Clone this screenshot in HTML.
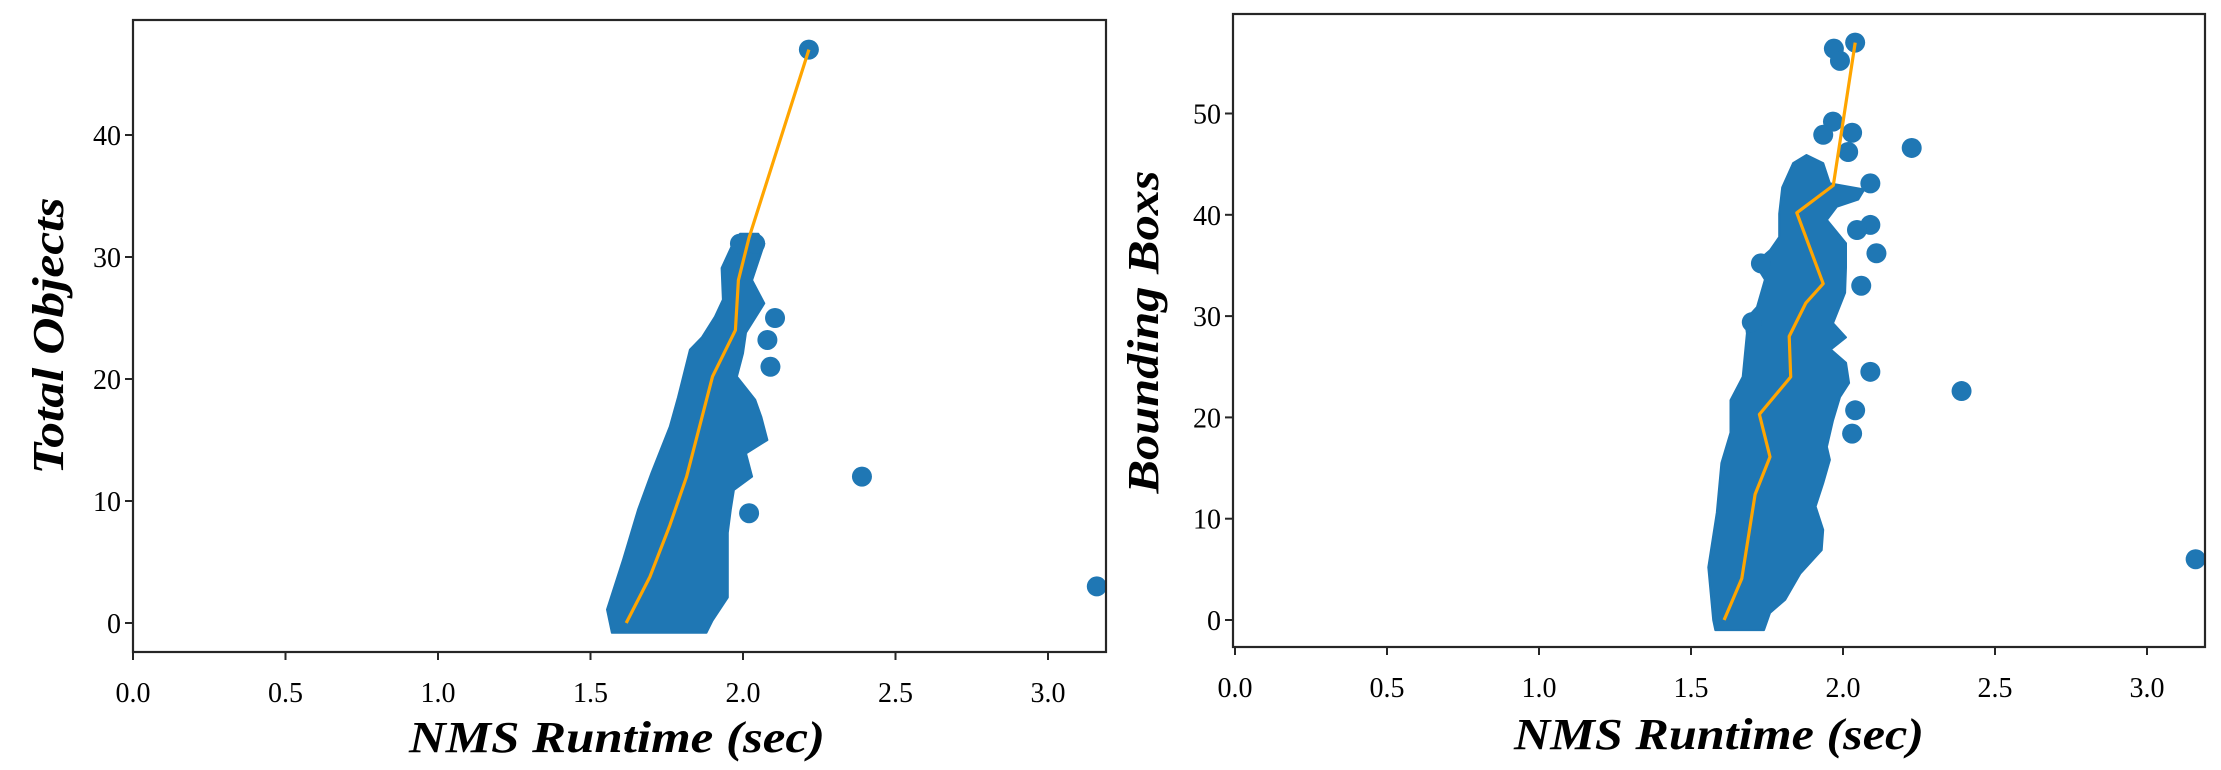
<!DOCTYPE html>
<html><head><meta charset="utf-8"><style>
html,body{margin:0;padding:0;background:#fff;}
svg{display:block;}
text{font-family:"Liberation Serif",serif;fill:#000;}
.tk{font-size:28px;}
.lb{font-size:44px;font-weight:bold;font-style:italic;}
</style></head><body>
<svg id="s" width="2221" height="770" viewBox="0 0 2221 770" xmlns="http://www.w3.org/2000/svg">
<text class="lb" x="617" y="752" text-anchor="middle" textLength="416" lengthAdjust="spacingAndGlyphs">NMS Runtime (sec)</text>
<text class="lb" x="1719" y="749" text-anchor="middle" textLength="410" lengthAdjust="spacingAndGlyphs">NMS Runtime (sec)</text>
<text class="lb" transform="translate(63,336) rotate(-90)" text-anchor="middle" textLength="277" lengthAdjust="spacingAndGlyphs">Total Objects</text>
<text class="lb" transform="translate(1158,332) rotate(-90)" text-anchor="middle" textLength="323" lengthAdjust="spacingAndGlyphs">Bounding Boxs</text>
</svg>
<script>
var S=document.getElementById('s'),NS='http://www.w3.org/2000/svg';
function el(t,a,txt){var e=document.createElementNS(NS,t);for(var k in a)e.setAttribute(k,a[k]);if(txt!==undefined)e.textContent=txt;S.appendChild(e);return e;}
function plot(P){
 var X=function(v){return P.x0+v*P.sx;},Y=function(v){return P.y0-v*P.sy;};
 el('polygon',{points:P.poly.map(function(p){return X(p[0]).toFixed(1)+','+Y(p[1]).toFixed(1);}).join(' '),fill:'#1f77b4','stroke':'#1f77b4','stroke-width':2,'stroke-linejoin':'round'});
 P.dots.forEach(function(d){el('circle',{cx:X(d[0]),cy:Y(d[1]),r:10,fill:'#1f77b4'});});
 el('polyline',{points:P.line.map(function(p){return X(p[0]).toFixed(1)+','+Y(p[1]).toFixed(1);}).join(' '),fill:'none',stroke:'#ffa500','stroke-width':3.2,'stroke-linejoin':'round'});
 el('rect',{x:P.L,y:P.T,width:P.R-P.L,height:P.B-P.T,fill:'none',stroke:'#262626','stroke-width':2.2});
 for(var i=0;i<=6;i++){var v=i*0.5,x=X(v);
  el('line',{x1:x,y1:P.B,x2:x,y2:P.B+8,stroke:'#262626','stroke-width':2});
  el('text',{x:x,y:P.B+50,'class':'tk','text-anchor':'middle'},v.toFixed(1));}
 P.yt.forEach(function(v){var y=Y(v);
  el('line',{x1:P.L-8,y1:y,x2:P.L,y2:y,stroke:'#262626','stroke-width':2});
  el('text',{x:P.L-12,y:y+10,'class':'tk','text-anchor':'end'},String(v));});
}
plot({L:133,R:1106,T:20,B:652,x0:133,sx:305,y0:623,sy:12.2,yt:[0,10,20,30,40],
 poly:[[1.57,-0.8],[1.554,1.1],[1.607,5.2],[1.656,9.3],[1.70,12.3],[1.76,16.1],[1.787,18.5],[1.826,22.4],[1.865,23.4],[1.908,25.1],[1.934,26.5],[1.93,29.1],[1.967,31.1],[1.99,31.9],[2.05,31.9],[2.07,31.1],[2.03,28.1],[2.07,26.2],[2.01,23.8],[2.0,22.1],[1.98,20.2],[2.04,18.3],[2.06,16.9],[2.08,15],[2.01,13.9],[2.03,12],[1.97,10.9],[1.96,9.3],[1.95,7.4],[1.95,4.6],[1.95,2.1],[1.90,0.2],[1.88,-0.8]],
 dots:[[2.216,47],[2.39,12],[3.16,3],[2.02,9],[2.09,21],[2.105,25],[2.08,23.2],[1.99,31.1],[2.04,31.1]],
 line:[[1.617,0],[1.695,3.8],[1.76,8],[1.815,12],[1.90,20.2],[1.975,24],[1.985,28.1],[2.02,31.6],[2.216,47]]});
plot({L:1233,R:2205,T:14,B:647,x0:1235,sx:304,y0:620,sy:10.13,yt:[0,10,20,30,40,50],
 poly:[[1.58,-1],[1.573,0],[1.557,5.2],[1.585,10.6],[1.60,15.5],[1.63,18.5],[1.63,21.7],[1.67,24],[1.684,28.3],[1.678,29.6],[1.717,30.9],[1.743,33.6],[1.71,35.2],[1.76,36.5],[1.79,37.8],[1.79,40.1],[1.80,42.7],[1.836,45.1],[1.88,45.9],[1.935,45.1],[1.957,43.1],[2.07,42.5],[2.05,41.5],[1.98,40.8],[1.947,39.5],[2.01,37.2],[2.01,34.8],[2.007,32.3],[1.967,29.3],[2.01,27.9],[1.96,26.7],[2.01,25.4],[2.02,23.4],[1.99,22],[1.967,19.7],[1.947,17.1],[1.957,15.8],[1.935,13.5],[1.91,11.2],[1.935,8.9],[1.93,6.9],[1.86,4.6],[1.81,2],[1.76,0.7],[1.74,-1]],
 dots:[[2.04,57],[1.97,56.4],[1.99,55.2],[1.967,49.2],[1.935,47.9],[2.03,48.1],[2.017,46.2],[2.226,46.6],[2.39,22.6],[3.16,6],[2.09,43.1],[2.09,39],[2.046,38.5],[2.11,36.2],[2.06,33],[2.09,24.5],[2.04,20.7],[2.03,18.4],[1.73,35.2],[1.70,29.4]],
 line:[[1.609,0],[1.667,4.1],[1.711,12.4],[1.76,16.1],[1.725,20.3],[1.828,24],[1.823,28],[1.878,31.3],[1.935,33.2],[1.848,40.2],[1.968,42.9],[2.04,57]]});
</script>
</body></html>
